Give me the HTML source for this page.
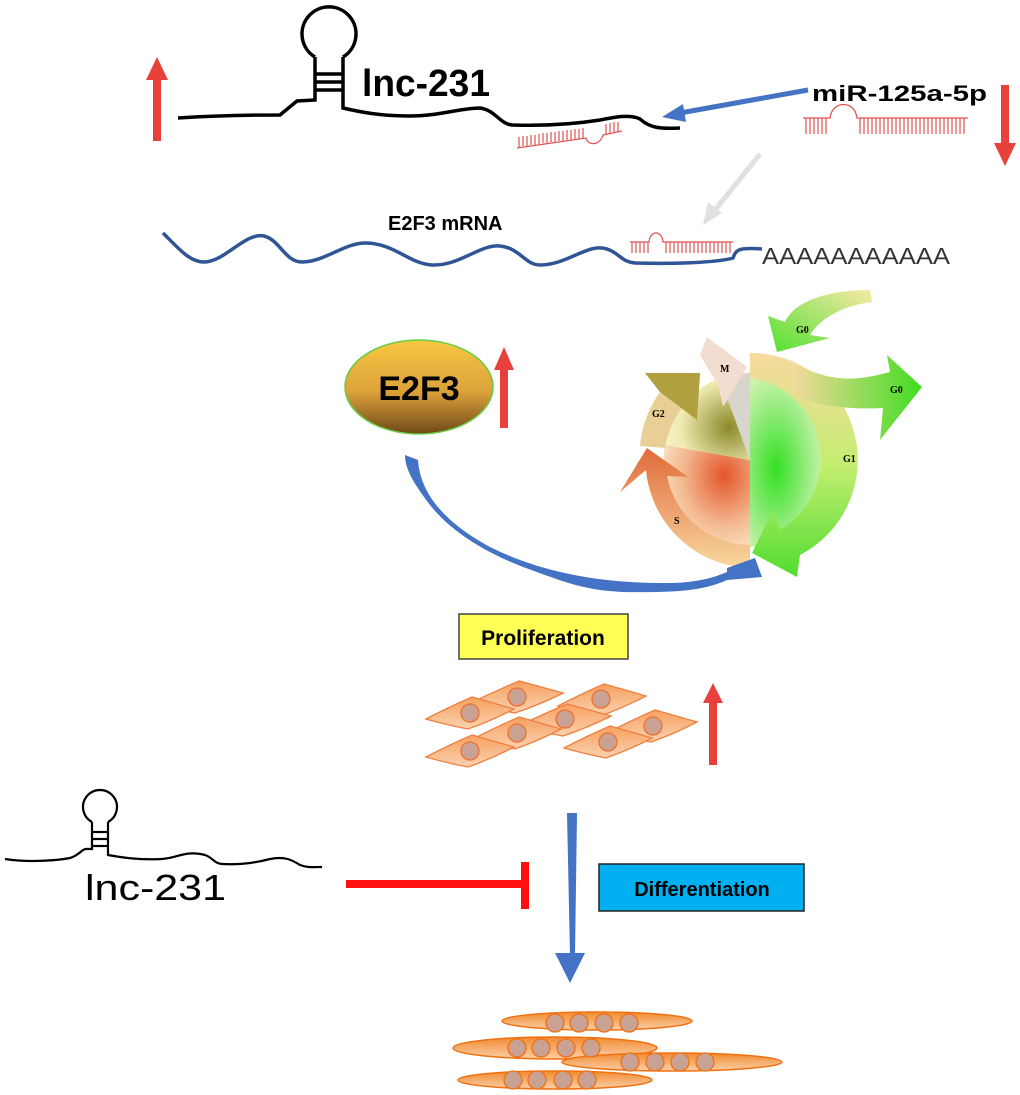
<!DOCTYPE html>
<html><head><meta charset="utf-8"><style>html,body{margin:0;padding:0;background:#fff}svg{display:block}</style></head><body>
<svg width="1020" height="1095" viewBox="0 0 1020 1095" xmlns="http://www.w3.org/2000/svg" font-family="Liberation Sans, sans-serif">
<defs>
<linearGradient id="e2f3" x1="0" y1="0" x2="0" y2="1"><stop offset="0" stop-color="#f7c843"/><stop offset="0.55" stop-color="#dca23a"/><stop offset="1" stop-color="#6e4818"/></linearGradient>
<radialGradient id="gR" cx="0.3" cy="0.55" r="0.7"><stop offset="0" stop-color="#33e022"/><stop offset="0.6" stop-color="#a8ee90"/><stop offset="1" stop-color="#f4f6c8"/></radialGradient>
<radialGradient id="gS" cx="0.7" cy="0.3" r="0.8"><stop offset="0" stop-color="#e4552a"/><stop offset="0.6" stop-color="#f3b890"/><stop offset="1" stop-color="#f9e7c4"/></radialGradient>
<radialGradient id="gG2" cx="0.75" cy="0.6" r="0.8"><stop offset="0" stop-color="#8a8a2a"/><stop offset="0.7" stop-color="#eeeab0"/><stop offset="1" stop-color="#f7f2c8"/></radialGradient>
<linearGradient id="ring1" x1="0" y1="0" x2="0" y2="1"><stop offset="0" stop-color="#f8d9a0"/><stop offset="0.5" stop-color="#c4ee70"/><stop offset="1" stop-color="#50dd30"/></linearGradient>
<linearGradient id="ringS" x1="0" y1="0" x2="0" y2="1"><stop offset="0" stop-color="#e06a3a"/><stop offset="1" stop-color="#f9d8a0"/></linearGradient>
<linearGradient id="g0a" x1="0" y1="0" x2="1" y2="0"><stop offset="0" stop-color="#f8d9a0"/><stop offset="1" stop-color="#40dd20"/></linearGradient>
<linearGradient id="g0b" x1="1" y1="0" x2="0" y2="1"><stop offset="0" stop-color="#f8e8a8"/><stop offset="1" stop-color="#50e030"/></linearGradient>
<linearGradient id="cell" x1="0" y1="0" x2="0" y2="1"><stop offset="0" stop-color="#f7a060"/><stop offset="1" stop-color="#fbd2b0"/></linearGradient>
<linearGradient id="fib" x1="0" y1="0" x2="0" y2="1"><stop offset="0" stop-color="#f08a30"/><stop offset="1" stop-color="#fcd0a8"/></linearGradient>
<path id="cl" d="M-42,6 Q-20,-6 2,-16 Q22,-10 42,-4 Q20,8 -2,16 Q-22,12 -42,6 Z"/>
</defs>

<rect x="153" y="78" width="8" height="63" fill="#e8403a"/>
<polygon points="146,80 157,57 168,80" fill="#e8403a"/>

<g fill="none" stroke="#000" stroke-width="3.5">
<path d="M178,118 C210,116 250,115 280,115 L297,101 L315,100 L315,57"/>
<path d="M343,57 L343,108 C360,112 380,116 410,116 C440,116 460,108 480,108 C495,110 500,124 512,125 C545,126 575,124 600,120 C615,117 630,114 640,119 C650,128 660,129 680,128"/>
<path d="M315,57 A27,27 0 1 1 343,57"/>
<line x1="315" y1="74" x2="343" y2="74"/><line x1="315" y1="82" x2="343" y2="82"/><line x1="315" y1="90" x2="343" y2="90"/>
</g>
<text x="362" y="96" font-size="38" font-weight="bold" textLength="128" lengthAdjust="spacingAndGlyphs">lnc-231</text>

<g stroke="#e05050" stroke-width="1.2" fill="none">
<path d="M517,148 L586,138 C588,146 600,146 603,135 L622,131"/>
<path d="M519,147 v-10 M523,146 v-10 M527,146 v-10 M531,145 v-10 M535,145 v-10 M539,144 v-10 M543,143 v-10 M547,143 v-10 M551,142 v-10 M555,142 v-10 M559,141 v-10 M563,141 v-10 M567,140 v-10 M571,140 v-10 M575,139 v-10 M579,139 v-10 M583,138 v-10 M606,134 v-10 M610,133 v-10 M614,132 v-10 M618,132 v-10"/>
</g>

<line x1="808" y1="90" x2="680" y2="113" stroke="#4472c4" stroke-width="5"/>
<polygon points="662,117 683,104 686,122" fill="#4472c4"/>
<text x="812" y="101" font-size="22" font-weight="bold" textLength="175" lengthAdjust="spacingAndGlyphs">miR-125a-5p</text>
<g stroke="#e05050" stroke-width="1.2" fill="none">
<path d="M803,118 L830,118 C832,100 855,100 857,118 L968,118"/>
<path d="M806,118v16M810,118v16M814,118v16M818,118v16M822,118v16M826,118v16M860,118v16M864,118v16M868,118v16M872,118v16M876,118v16M880,118v16M884,118v16M888,118v16M892,118v16M896,118v16M900,118v16M904,118v16M908,118v16M912,118v16M916,118v16M920,118v16M924,118v16M928,118v16M932,118v16M936,118v16M940,118v16M944,118v16M948,118v16M952,118v16M956,118v16M960,118v16M964,118v16"/>
</g>
<rect x="1001" y="85" width="8" height="60" fill="#e8403a"/>
<polygon points="994,143 1005,166 1016,143" fill="#e8403a"/>

<line x1="760" y1="154" x2="715" y2="210" stroke="#e0e0e0" stroke-width="5"/>
<polygon points="703,225 708,202 722,213" fill="#e0e0e0"/>

<text x="388" y="230" font-size="20" font-weight="bold">E2F3 mRNA</text>
<path d="M163,233 C180,250 190,262 204,262 C225,262 245,232 264,236 C280,240 285,262 302,262 C325,262 345,242 367,243 C395,244 410,264 432,265 C460,266 480,244 500,246 C520,248 525,265 540,265 C565,265 585,246 602,248 C618,250 620,262 635,263 C670,264 715,263 733,258 C736,250 738,247 762,249" fill="none" stroke="#2f5597" stroke-width="3.5"/>
<g stroke="#e05050" stroke-width="1.2" fill="none">
<path d="M630,242 L649,242 C650,230 662,230 663,242 L733,242"/>
<path d="M632,242v11M636,242v11M640,242v11M644,242v11M648,242v11M666,242v11M670,242v11M674,242v11M678,242v11M682,242v11M686,242v11M690,242v11M694,242v11M698,242v11M702,242v11M706,242v11M710,242v11M714,242v11M718,242v11M722,242v11M726,242v11M730,242v11"/>
</g>
<text x="762" y="264" font-size="23" fill="#333" textLength="188" lengthAdjust="spacingAndGlyphs">AAAAAAAAAAA</text>

<ellipse cx="419" cy="387" rx="74" ry="47" fill="url(#e2f3)" stroke="#66cc44" stroke-width="1.5"/>
<text x="419" y="400" font-size="34" font-weight="bold" text-anchor="middle">E2F3</text>
<rect x="500" y="368" width="8" height="60" fill="#e8403a"/>
<polygon points="494,370 504,347 514,370" fill="#e8403a"/>

<g>
<path d="M750,373 A87,87 0 0 1 750,547 Z" fill="url(#gR)"/>
<path d="M750,460 L750,547 A87,87 0 0 1 665,445 Z" fill="url(#gS)"/>
<path d="M750,460 L665,445 A87,87 0 0 1 720,378 Z" fill="url(#gG2)"/>
<path d="M750,460 L720,378 A87,87 0 0 1 750,373 Z" fill="#d8d6cc"/>
<path d="M750,353 A107,107 0 0 1 800,555 L797,577 L752,553 L773,510 L780,530 A82,82 0 0 0 750,378 Z" fill="url(#ring1)"/>
<path d="M790,360 C830,385 860,380 890,372 L887,355 L922,387 L880,440 L883,408 C845,410 815,405 795,395 Z" fill="url(#g0a)"/>
<path d="M870,290 C830,290 795,300 785,322 L768,316 L777,352 L830,338 L810,335 C820,318 845,305 872,302 Z" fill="url(#g0b)"/>
<path d="M750,568 A108,108 0 0 1 646,470 L620,492 L647,448 L688,477 L667,476 A85,85 0 0 0 750,545 Z" fill="url(#ringS)"/>
<path d="M640,446 A110,110 0 0 1 660,392 L645,373 L700,373 L697,420 L682,408 A85,85 0 0 0 665,448 Z" fill="#e9cf95"/>
<path d="M660,392 L645,373 L700,373 L697,420 Z" fill="#b0a040"/>
<path d="M707,337 L747,367 L723,407 L718,385 L700,355 Z" fill="#f2ddd0"/>
<text x="796" y="333" font-family="Liberation Serif, serif" font-size="10" font-weight="bold">G0</text>
<text x="890" y="393" font-family="Liberation Serif, serif" font-size="10" font-weight="bold">G0</text>
<text x="720" y="372" font-family="Liberation Serif, serif" font-size="10" font-weight="bold">M</text>
<text x="652" y="417" font-family="Liberation Serif, serif" font-size="10" font-weight="bold">G2</text>
<text x="843" y="462" font-family="Liberation Serif, serif" font-size="10" font-weight="bold">G1</text>
<text x="674" y="524" font-family="Liberation Serif, serif" font-size="10" font-weight="bold">S</text>
</g>

<path d="M405,455 L418,460 C420,490 440,520 490,547 C540,572 600,584 673,583 C700,582 715,577 727,572 L727,568 L755,558 L762,577 L727,580 C705,590 680,593 623,592 C580,590 560,580 523,567 C480,550 450,530 430,505 C415,485 405,470 405,455 Z" fill="#4472c4"/>

<rect x="459" y="614" width="169" height="45" fill="#ffff55" stroke="#444" stroke-width="1.5"/>
<text x="543" y="645" font-size="21" font-weight="bold" text-anchor="middle">Proliferation</text>

<g stroke="#f08040" stroke-width="1.3" fill="url(#cell)">
<use href="#cl" transform="translate(517,697) scale(1.1,1)"/>
<use href="#cl" transform="translate(602,700) scale(1.05,1)"/>
<use href="#cl" transform="translate(470,713) scale(1.05,1)"/>
<use href="#cl" transform="translate(653,726) scale(1.05,1)"/>
<use href="#cl" transform="translate(565,720) scale(1.1,1)"/>
<use href="#cl" transform="translate(517,733) scale(1.05,1)"/>
<use href="#cl" transform="translate(608,742) scale(1.05,1)"/>
<use href="#cl" transform="translate(470,751) scale(1.05,1)"/>
</g>
<g fill="#c9a294" stroke="#f07030" stroke-width="1.3">
<circle cx="470" cy="713" r="9"/><circle cx="517" cy="697" r="9"/><circle cx="601" cy="699" r="9"/><circle cx="565" cy="719" r="9"/>
<circle cx="517" cy="733" r="9"/><circle cx="470" cy="751" r="9"/><circle cx="608" cy="742" r="9"/><circle cx="653" cy="726" r="9"/>
</g>
<rect x="709" y="700" width="8" height="65" fill="#e8403a"/>
<polygon points="703,703 713,683 723,703" fill="#e8403a"/>

<g fill="none" stroke="#000" stroke-width="2.2">
<path d="M5,859 C30,863 60,860 70,858 C80,855 82,848 88,849 L92,849 L92,822"/>
<path d="M108,822 L108,855 C125,858 140,860 162,859 C178,858 185,850 205,855 C212,857 215,864 222,864 C240,865 255,863 270,859 C285,856 292,860 300,865 C308,868 315,867 322,867"/>
<path d="M92,822 A17,17 0 1 1 108,822"/>
<line x1="92" y1="832" x2="108" y2="832"/><line x1="92" y1="839" x2="108" y2="839"/><line x1="92" y1="846" x2="108" y2="846"/>
</g>
<text x="85" y="900" font-size="36" textLength="141" lengthAdjust="spacingAndGlyphs">lnc-231</text>

<rect x="346" y="880" width="180" height="8" fill="#ff1010"/>
<rect x="521" y="862" width="8" height="47" fill="#ff1010"/>

<polygon points="567,813 577,813 575,955 570,955" fill="#4472c4"/>
<polygon points="555,953 585,953 570,983" fill="#4472c4"/>

<rect x="599" y="864" width="205" height="47" fill="#00b0f0" stroke="#222" stroke-width="1.5"/>
<text x="702" y="896" font-size="20" font-weight="bold" text-anchor="middle">Differentiation</text>

<g stroke="#f07010" stroke-width="1.5" fill="url(#fib)">
<ellipse cx="597" cy="1021" rx="95" ry="9"/>
<ellipse cx="555" cy="1048" rx="102" ry="11"/>
<ellipse cx="672" cy="1062" rx="110" ry="9"/>
<ellipse cx="555" cy="1080" rx="97" ry="9"/>
</g>
<g fill="#c9a294" stroke="#f07010" stroke-width="1.3">
<circle cx="555" cy="1023" r="9"/><circle cx="579" cy="1023" r="9"/><circle cx="604" cy="1023" r="9"/><circle cx="629" cy="1023" r="9"/>
<circle cx="517" cy="1048" r="9"/><circle cx="541" cy="1048" r="9"/><circle cx="566" cy="1048" r="9"/><circle cx="591" cy="1048" r="9"/>
<circle cx="630" cy="1062" r="9"/><circle cx="655" cy="1062" r="9"/><circle cx="680" cy="1062" r="9"/><circle cx="705" cy="1062" r="9"/>
<circle cx="513" cy="1080" r="9"/><circle cx="537" cy="1080" r="9"/><circle cx="563" cy="1080" r="9"/><circle cx="587" cy="1080" r="9"/>
</g>
</svg>
</body></html>
